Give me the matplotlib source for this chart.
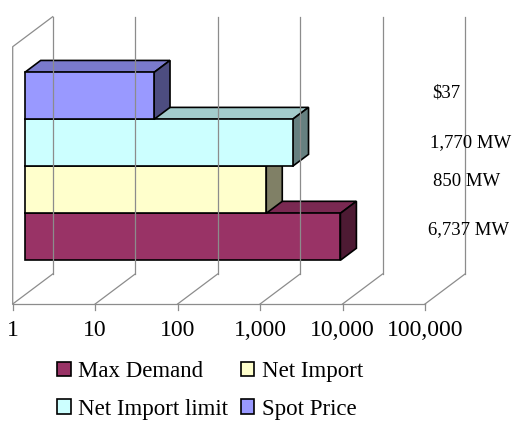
import numpy as np
import matplotlib
matplotlib.use('Agg')
import matplotlib.pyplot as plt
from matplotlib.patches import Polygon, Patch
from matplotlib.colors import to_rgb

# ---------------- data ----------------
series = ['Max Demand', 'Net Import', 'Net Import limit', 'Spot Price']
values = [6737, 850, 1770, 37]
value_labels = ['6,737 MW', '850 MW', '1,770 MW', '$37']
tick_values = [1, 10, 100, 1000, 10000, 100000]
tick_labels = ['1', '10', '100', '1,000', '10,000', '100,000']
front_colors = ['#993366', '#FFFFCC', '#CCFFFF', '#9999FF']

# ---------------- layout ----------------
W, H = 512, 422
fig = plt.figure(figsize=(W / 100, H / 100), dpi=100)
L, R, T, B = 12.7, 425.0, 46.7, 304.0          # front plane, pixels from top-left
ax = fig.add_axes([L / W, 1 - B / H, (R - L) / W, (B - T) / H])
ax.set_xscale('log')
ax.set_xlim(tick_values[0], tick_values[-1])
ax.set_ylim(0, 1)
ax.axis('off')

ov = fig.add_axes([0, 0, 1, 1])
ov.set_xlim(0, W)
ov.set_ylim(0, H)
ov.axis('off')

DEPTH = np.array([40.0, 30.0])   # back-plane offset (display px)


def P(x, y, d):
    p = ax.transData.transform((x, y))
    return p + d * DEPTH


grid_c = '#8c8c8c'
glw = 0.9
xmin, xmax = tick_values[0], tick_values[-1]

# walls / floor
for v in tick_values:
    a, b = P(v, 0, 1), P(v, 1, 1)
    ov.plot([a[0], b[0]], [a[1], b[1]], color=grid_c, lw=glw)
    f = P(v, 0, 0)
    ov.plot([f[0], a[0]], [f[1], a[1]], color=grid_c, lw=glw)
    ov.plot([f[0], f[0]], [f[1], f[1] - 6], color=grid_c, lw=glw)
a, b = P(xmin, 0, 0), P(xmax, 0, 0)
ov.plot([a[0], b[0]], [a[1], b[1]], color=grid_c, lw=glw)
a, b, c = P(xmin, 0, 0), P(xmin, 1, 0), P(xmin, 1, 1)
ov.plot([a[0], b[0], c[0]], [a[1], b[1], c[1]], color=grid_c, lw=glw)

# bars
n = len(series)
group = 0.73
bh = group / n
y0 = 0.5 - group / 2
d0, d1 = 0.3, 0.7


def shade(c, k):
    return tuple(np.array(to_rgb(c)) * k)


for i, (v, col) in enumerate(zip(values, front_colors)):
    yb, yt = y0 + i * bh, y0 + (i + 1) * bh
    top = [P(xmin, yt, d0), P(v, yt, d0), P(v, yt, d1), P(xmin, yt, d1)]
    side = [P(v, yb, d0), P(v, yt, d0), P(v, yt, d1), P(v, yb, d1)]
    front = [P(xmin, yb, d0), P(v, yb, d0), P(v, yt, d0), P(xmin, yt, d0)]
    for pts, c in ((top, shade(col, 0.8)), (side, shade(col, 0.5)), (front, col)):
        ov.add_patch(Polygon(pts, closed=True, facecolor=c, edgecolor='black',
                             lw=1.2, joinstyle='miter'))

# value labels (pixel positions from top)
label_pos = {'$37': (446, 93), '1,770 MW': (471, 143), '850 MW': (467, 182), '6,737 MW': (469, 230)}
for lab in value_labels:
    x, y = label_pos[lab]
    ov.text(x, H - y, lab, ha='center', va='center', fontsize=13.5,
            family='Liberation Serif', color='black')

# tick labels
for v, lab in zip(tick_values, tick_labels):
    p = P(v, 0, 0)
    ov.text(p[0], H - 330, lab, ha='center', va='center', fontsize=17,
            family='Liberation Serif', color='black')

# legend (row-wise order)
order = [0, 2, 1, 3]
handles = [Patch(facecolor=front_colors[k], edgecolor='black', lw=1.2) for k in order]
labels = [series[k] for k in order]
ov.legend(handles, labels, ncol=2, loc='upper left', bbox_to_anchor=(57, H - 361),
          bbox_transform=ov.transData, frameon=False, borderpad=0, borderaxespad=0,
          handlelength=0.6, handleheight=0.6, handletextpad=0.32, columnspacing=0.55,
          labelspacing=0.72, prop={'family': 'Liberation Serif', 'size': 16.5})

fig.savefig('out.png', dpi=100)
